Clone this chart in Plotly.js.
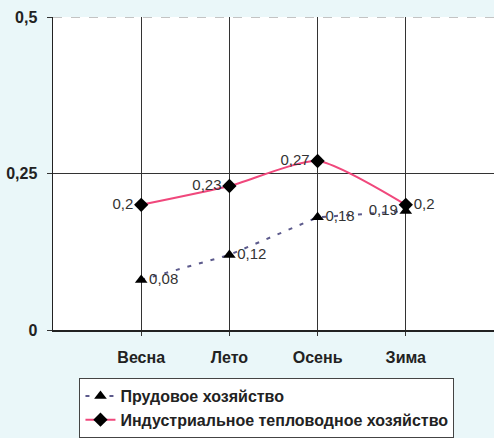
<!DOCTYPE html>
<html><head><meta charset="utf-8">
<script src="https://cdn.plot.ly/plotly-3.0.1.min.js"></script>
<style>html,body{margin:0;padding:0;background:#eaf7f9;}</style>
</head><body>
<div id="chart" style="width:494px;height:438px;"></div>
<script>
const seasons = ['Весна', 'Лето', 'Осень', 'Зима'];
const seasonIdx = [0, 1, 2, 3];
const pondValues = [0.08, 0.12, 0.18, 0.19];
const pondLabels = ['0,08', '0,12', '0,18', '0,19'];
const industrialValues = [0.2, 0.23, 0.27, 0.2];
const industrialLabels = ['0,2', '0,23', '0,27', '0,2'];
const yTickVals = [0, 0.25, 0.5];
const yTickText = ['0', '0,25', '0,5'];

const pond = {
  x: seasonIdx, y: pondValues, text: pondLabels,
  name: 'Прудовое хозяйство',
  mode: 'lines+markers+text', type: 'scatter',
  line: {color: '#5c5a8c', width: 2, dash: '4px,8px'},
  marker: {symbol: 'triangle-up', size: 11, color: '#000'},
  textposition: ['middle right', 'middle right', 'middle right', 'middle left'],
  textfont: {family: 'Liberation Sans, Arial', size: 15, color: '#333'},
  cliponaxis: false
};
const industrial = {
  x: seasonIdx, y: industrialValues, text: industrialLabels,
  name: 'Индустриальное тепловодное хозяйство',
  mode: 'lines+markers+text', type: 'scatter',
  line: {color: '#f0487c', width: 2, shape: 'spline', smoothing: 0.6},
  marker: {symbol: 'diamond', size: 11, color: '#000'},
  textposition: ['middle left', 'middle left', 'middle left', 'middle right'],
  textfont: {family: 'Liberation Sans, Arial', size: 15, color: '#333'},
  cliponaxis: false
};

const layout = {
  width: 494, height: 438,
  margin: {l: 53, r: 0, t: 17, b: 108},
  paper_bgcolor: '#eaf7f9', plot_bgcolor: '#ffffff',
  showlegend: true,
  font: {family: 'Liberation Sans, Arial', color: '#222'},
  xaxis: {
    range: [-1, 4], tickvals: seasonIdx, ticktext: seasons,
    showgrid: true, gridcolor: '#333', gridwidth: 1,
    zeroline: false, showline: true, linecolor: '#222', linewidth: 1.5,
    ticks: 'outside', ticklen: 4, tickcolor: '#333', ticklabelstandoff: 8,
    tickfont: {size: 16, family: 'Liberation Sans, Arial', weight: 'bold', color: '#222'},
    fixedrange: true, automargin: false
  },
  yaxis: {
    range: [0, 0.5], tickvals: yTickVals, ticktext: yTickText,
    showgrid: false, zeroline: false, showline: true, linecolor: '#222', linewidth: 1.5,
    ticks: 'outside', ticklen: 5, tickcolor: '#333', ticklabelstandoff: 6,
    tickfont: {size: 16, family: 'Liberation Sans, Arial', weight: 'bold', color: '#222'},
    fixedrange: true, automargin: false
  },
  shapes: [
    {type: 'line', xref: 'paper', yref: 'y', x0: 0, x1: 1, y0: 0.25, y1: 0.25,
     line: {color: '#333', width: 1}, layer: 'below'},
    {type: 'line', xref: 'paper', yref: 'y', x0: 0, x1: 1, y0: 0.5, y1: 0.5,
     line: {color: '#888', width: 1, dash: 'dash'}, layer: 'above'}
  ],
  legend: {
    x: 0.06, y: -0.155, xanchor: 'left', yanchor: 'top',
    bgcolor: '#ffffff', bordercolor: '#444', borderwidth: 1,
    font: {size: 16, family: 'Liberation Sans, Arial', weight: 'bold', color: '#222'},
    tracegroupgap: 0
  }
};

Plotly.newPlot('chart', [pond, industrial], layout, {displayModeBar: false, staticPlot: true});
</script>
</body></html>
